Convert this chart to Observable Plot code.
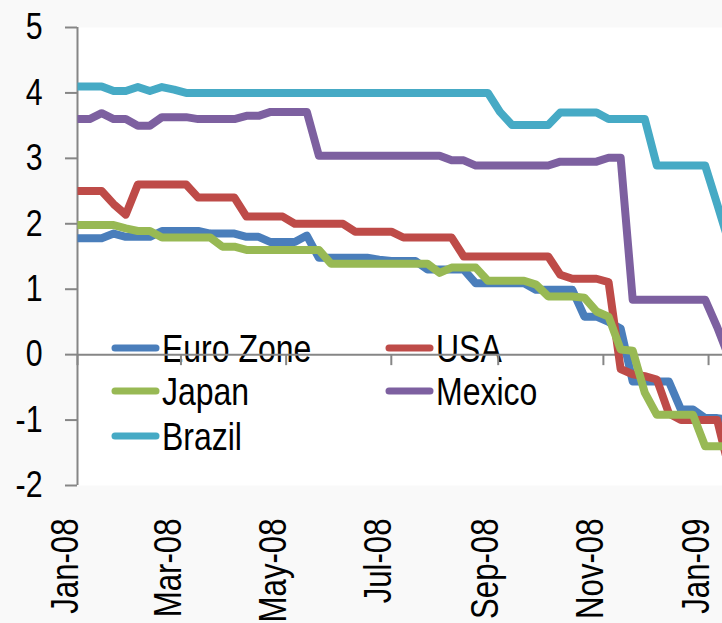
<!DOCTYPE html>
<html>
<head>
<meta charset="utf-8">
<script src="https://cdn.jsdelivr.net/npm/d3@7"></script>
<script src="https://cdn.jsdelivr.net/npm/@observablehq/plot@0.6"></script>
<style>
  html, body { margin: 0; padding: 0; background: #f9f9f9; }
  #chart { width: 722px; height: 623px; }
</style>
</head>
<body>
<div id="chart"></div>
<script>
// ---- data ----
const seriesNames = ["Euro Zone", "USA", "Japan", "Mexico", "Brazil"];
const seriesColors = ["#4a7ebb", "#be4b48", "#98b954", "#7d60a0", "#46aac5"];
const firstWeek = "2008-01-01"; // weekly observations from this date

const euroZone = [
  1.78,1.78,1.78,1.85,1.80,1.80,1.80,1.89,1.89,1.89,
  1.89,1.85,1.85,1.85,1.80,1.80,1.72,1.72,1.72,1.82,
  1.48,1.48,1.48,1.48,1.48,1.45,1.43,1.43,1.43,1.30,
  1.30,1.30,1.30,1.09,1.09,1.09,1.09,1.09,0.99,0.99,
  0.99,0.99,0.58,0.58,0.50,0.40,-0.41,-0.41,-0.41,-0.41,
  -0.84,-0.84,-0.97,-0.97,-1.00
];
const usa = [
  2.50,2.50,2.50,2.30,2.14,2.60,2.60,2.60,2.60,2.60,
  2.40,2.40,2.40,2.40,2.11,2.11,2.11,2.11,2.00,2.00,
  2.00,2.00,2.00,1.88,1.88,1.88,1.88,1.79,1.79,1.79,
  1.79,1.79,1.50,1.50,1.50,1.50,1.50,1.50,1.50,1.50,
  1.22,1.16,1.16,1.16,1.11,-0.22,-0.30,-0.33,-0.38,-0.90,
  -1.00,-1.00,-1.00,-1.00,-1.75
];
const japan = [
  1.98,1.98,1.98,1.98,1.93,1.89,1.89,1.79,1.79,1.79,
  1.79,1.79,1.65,1.65,1.60,1.60,1.60,1.60,1.60,1.60,
  1.60,1.39,1.39,1.39,1.39,1.39,1.39,1.39,1.39,1.39,
  1.25,1.33,1.33,1.33,1.13,1.13,1.13,1.13,1.07,0.89,
  0.89,0.89,0.87,0.66,0.58,0.08,0.06,-0.58,-0.92,-0.92,
  -0.92,-0.92,-1.40,-1.40,-1.40
];
const mexico = [
  3.60,3.60,3.69,3.60,3.60,3.50,3.50,3.63,3.63,3.63,
  3.60,3.60,3.60,3.60,3.65,3.65,3.71,3.71,3.71,3.71,
  3.04,3.04,3.04,3.04,3.04,3.04,3.04,3.04,3.04,3.04,
  3.04,2.97,2.97,2.89,2.89,2.89,2.89,2.89,2.89,2.89,
  2.95,2.95,2.95,2.95,3.01,3.01,0.84,0.84,0.84,0.84,
  0.84,0.84,0.84,0.42,-0.05
];
const brazil = [
  4.10,4.10,4.10,4.03,4.03,4.09,4.03,4.09,4.05,4.00,
  4.00,4.00,4.00,4.00,4.00,4.00,4.00,4.00,4.00,4.00,
  4.00,4.00,4.00,4.00,4.00,4.00,4.00,4.00,4.00,4.00,
  4.00,4.00,4.00,4.00,4.00,3.71,3.51,3.51,3.51,3.51,
  3.70,3.70,3.70,3.70,3.60,3.60,3.60,3.60,2.89,2.89,
  2.89,2.89,2.89,2.30,1.70
];
const seriesValues = [euroZone, usa, japan, mexico, brazil];

const xTickDates = ["2008-01-01","2008-03-01","2008-05-01","2008-07-01","2008-09-01","2008-11-01","2009-01-01"];
const xTickLabels = ["Jan-08","Mar-08","May-08","Jul-08","Sep-08","Nov-08","Jan-09"];
const yTicks = [-2,-1,0,1,2,3,4,5];
const yTickLabels = ["-2","-1","0","1","2","3","4","5"];
const xDomain = ["2008-01-01T00:00Z", "2009-01-09T02:00Z"];

// ---- build table ----
const start = new Date(firstWeek + "T00:00Z");
const rows = [];
seriesNames.forEach((name, s) => {
  seriesValues[s].forEach((v, i) => {
    rows.push({series: name, date: d3.utcDay.offset(start, 7 * i), value: v});
  });
});
const xTicks = xTickDates.map(d => new Date(d + "T00:00Z"));

const FONT = "'Liberation Sans Narrow', 'Arial Narrow', 'Liberation Sans', Arial, sans-serif";
const GREY = "#868686";
const NARROW = 0.82; // horizontal squeeze to imitate a narrow typeface

const chart = Plot.plot({
  width: 722,
  height: 623,
  marginLeft: 77,
  marginRight: 0,
  marginTop: 27,
  marginBottom: 138,
  style: {background: "#f9f9f9", fontFamily: FONT, color: "black", overflow: "visible"},
  x: {type: "utc", domain: xDomain.map(d => new Date(d)), axis: null},
  y: {domain: [-2, 5], axis: null},
  color: {domain: seriesNames, range: seriesColors},
  marks: [
    Plot.frame({fill: "white", stroke: "none"}),
    // y axis ticks and labels
    Plot.ruleY(yTicks, {y: d => d, x1: xTicks[0], x2: xTicks[0], insetLeft: -12, stroke: GREY, strokeWidth: 2}),
    Plot.text(yTicks, {y: d => d, text: (d, i) => yTickLabels[i], frameAnchor: "left", dx: -35, textAnchor: "end", fontSize: 37, fill: "black"}),
    // x axis at zero
    Plot.ruleY([0], {stroke: GREY, strokeWidth: 2}),
    Plot.ruleX(xTicks, {x: d => d, y1: 0, y2: 0, insetBottom: -11, stroke: GREY, strokeWidth: 2}),
    Plot.text(xTicks, {x: d => d, text: (d, i) => xTickLabels[i], frameAnchor: "bottom", rotate: -90, textAnchor: "end", dy: 33, fontSize: 38, fill: "black"}),
    // y axis line
    Plot.ruleX([xTicks[0]], {stroke: GREY, strokeWidth: 2}),
    // series
    Plot.line(rows, {x: "date", y: "value", z: "series", stroke: "series", strokeWidth: 8, strokeLinejoin: "round", strokeLinecap: "butt", clip: true})
  ]
});

document.getElementById("chart").appendChild(chart);

// ---- legend (inside plot, beneath axes and lines) ----
const frameNode = chart.querySelector("[aria-label=frame]");
const legend = document.createElementNS("http://www.w3.org/2000/svg", "g");
frameNode.after(legend);
const lg = d3.select(legend).attr("font-family", FONT).attr("font-size", 39).attr("text-anchor", "start");
const legendPos = [
  {col: 0, row: 0}, {col: 1, row: 0},
  {col: 0, row: 1}, {col: 1, row: 1},
  {col: 0, row: 2}
];
const colX = [115, 389];
const rowY = [348, 391, 436];
seriesNames.forEach((name, i) => {
  const p = legendPos[i];
  const x = colX[p.col], y = rowY[p.row];
  lg.append("line").attr("x1", x).attr("x2", x + 41).attr("y1", y).attr("y2", y)
    .attr("stroke", seriesColors[i]).attr("stroke-width", 7).attr("stroke-linecap", "round");
  lg.append("text").attr("x", x + 47).attr("y", y).attr("text-anchor", "start")
    .attr("dy", "0.35em").attr("fill", "black").text(name);
});

// squeeze all text glyphs along the text direction (narrow typeface look)
chart.querySelectorAll("text").forEach(el => {
  const len = el.getComputedTextLength();
  if (len > 0) {
    el.setAttribute("textLength", (len * NARROW).toFixed(2));
    el.setAttribute("lengthAdjust", "spacingAndGlyphs");
  }
});
</script>
</body>
</html>
